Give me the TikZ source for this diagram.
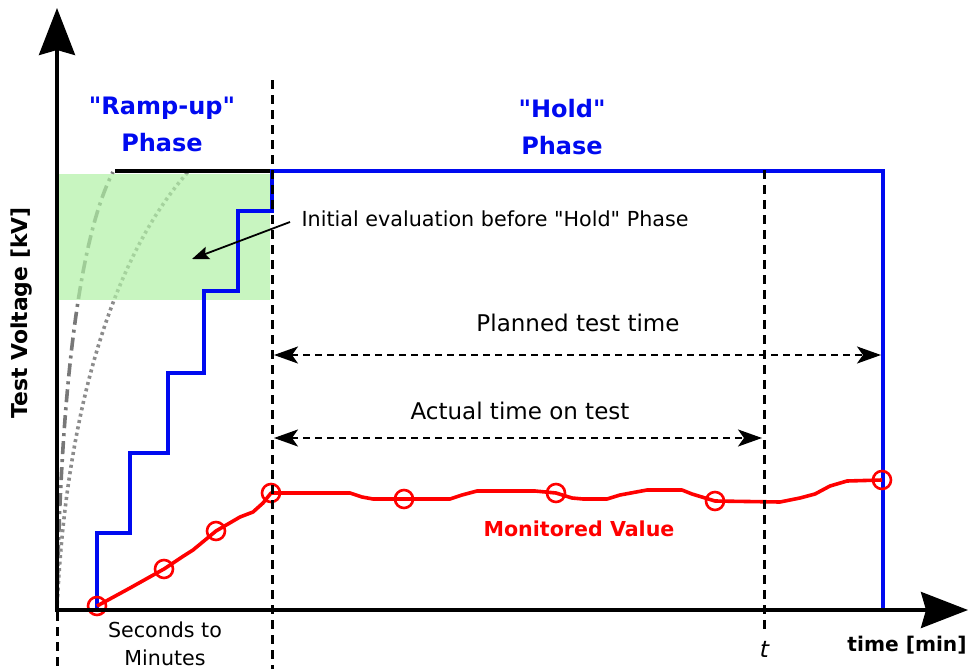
\documentclass[tikz,border=0pt]{standalone}
\usepackage{fontspec}
\setmainfont{DejaVu Sans}
\newfontfamily\slantfont{DejaVu Sans}[FakeSlant=0.22]
\usetikzlibrary{arrows.meta}
\definecolor{rampblue}{RGB}{0,10,240}
\definecolor{monred}{RGB}{255,0,0}
\definecolor{evalgreen}{RGB}{176,241,165}
\definecolor{curvegray}{RGB}{120,120,120}
\definecolor{dotgray}{RGB}{140,140,140}
\begin{document}
\begin{tikzpicture}[x=1pt,y=-1pt,
  axis/.style={line width=3.6pt,-{Stealth[length=47pt,width=36pt,inset=5pt]}},
  guide/.style={line width=3pt,dash pattern=on 9pt off 6pt},
  span/.style={line width=2.4pt,dash pattern=on 7pt off 5pt,
    {Stealth[length=24pt,width=17pt,inset=6pt]}-{Stealth[length=24pt,width=17pt,inset=6pt]}},
  ramp/.style={rampblue,line width=4pt,line join=miter},
  monitor/.style={monred,line width=3.6pt,line join=round},
  probe/.style={circle,draw=monred,line width=2.6pt,minimum size=18pt,inner sep=0pt},
  txt/.style={font=\fontsize{23}{27}\selectfont},
  phase/.style={rampblue,align=center,font=\fontsize{24}{37}\selectfont\bfseries},
]
\useasboundingbox (0,0) rectangle (974,669);

% origin and phase boundaries
\coordinate (O) at (57,610);
\coordinate (holdStart) at (272,171);
\coordinate (holdEnd) at (883,171);

% reference ramp curves (fast and slow)
\draw[curvegray,line width=3.6pt,dash pattern=on 13pt off 5pt on 3pt off 5pt]
  (O) .. controls (60,400) and (78,240) .. (113,172);
\draw[dotgray,line width=3.6pt,dash pattern=on 3pt off 3.5pt]
  (O) .. controls (65,420) and (110,260) .. (188,172);

% evaluation window
\fill[evalgreen,fill opacity=0.7] (57,174) rectangle (270,300);

% target level during ramp-up
\draw[line width=4pt] (115,171) -- (holdStart);

% stepped test voltage
\draw[ramp] (O) -- (97,610) -- (97,533) -- (130,533) -- (130,453) -- (168,453)
  -- (168,373) -- (204,373) -- (204,291) -- (238,291) -- (238,211) -- (272,211)
  -- (holdStart) -- (holdEnd) -- (883,610);

% monitored value with sample points
\node[probe] (p1) at (97,606) {};
\node[probe] (p2) at (164,569) {};
\node[probe] (p3) at (216,531) {};
\node[probe] (p4) at (271,493) {};
\node[probe] (p5) at (404,499) {};
\node[probe] (p6) at (556,493) {};
\node[probe] (p7) at (715,501) {};
\node[probe] (p8) at (882,480) {};
\draw[monitor] (p1.center) -- (130,588) -- (p2.center) -- (182,557) -- (193,550)
  -- (p3.center) -- (240,517) -- (253,512) -- (263,503) -- (p4.center)
  -- (350,493) -- (362,497) -- (373,499) -- (p5.center) -- (450,499) -- (462,495)
  -- (477,491) -- (535,491) -- (p6.center) -- (572,498) -- (583,499) -- (607,499)
  -- (620,495) -- (647,490) -- (682,490) -- (692,494) -- (p7.center) -- (780,502)
  -- (800,498) -- (815,494) -- (830,486) -- (847,481) -- (p8.center);

% guide lines
\draw[guide] (57,612) -- (57,669);
\draw[guide] (272,80) -- (272,669);
\draw[guide] (764,170) -- (764,630);

% axes
\draw[axis] (57,612) -- (57,8);
\draw[axis] (55,610) -- (968,610);

% time spans
\coordinate (planA) at (274,355);
\coordinate (planB) at (881,355);
\coordinate (actA) at (274,438);
\coordinate (actB) at (762,438);
\draw[span] (planA) -- (planB);
\draw[span] (actA) -- (actB);

% labels
\node[phase] (rampTitle) at (162,124) {\textquotedbl Ramp-up\textquotedbl\\Phase};
\node[phase] (holdTitle) at (562,127) {\textquotedbl Hold\textquotedbl\\Phase};
\node[txt,anchor=west,font=\fontsize{20.7}{25}\selectfont] (note) at (298,219)
  {Initial evaluation before \textquotedbl Hold\textquotedbl\ Phase};
\coordinate (noteTail) at (290,222);
\coordinate (noteTip) at (192,259);
\draw[line width=1.8pt,-{Stealth[length=17pt,width=13pt,inset=3pt]}] (noteTail) -- (noteTip);
\node[txt] (planned) at (578,323) {Planned test time};
\node[txt] (actual) at (520,411) {Actual time on test};
\node[monred,font=\fontsize{20.6}{25}\selectfont\bfseries] (monLabel) at (579,529) {Monitored Value};
\node[align=center,font=\fontsize{20.6}{28}\selectfont] (secMin) at (165,644) {Seconds to\\Minutes};
\node[font=\fontsize{23}{26}\slantfont] (tLabel) at (763,649) {t};
\node[font=\fontsize{20.2}{24}\selectfont\bfseries] (xLabel) at (907,645) {time [min]};
\node[rotate=90,font=\fontsize{21.9}{26}\selectfont\bfseries] (yLabel) at (22,313) {Test Voltage [kV]};
\end{tikzpicture}
\end{document}
